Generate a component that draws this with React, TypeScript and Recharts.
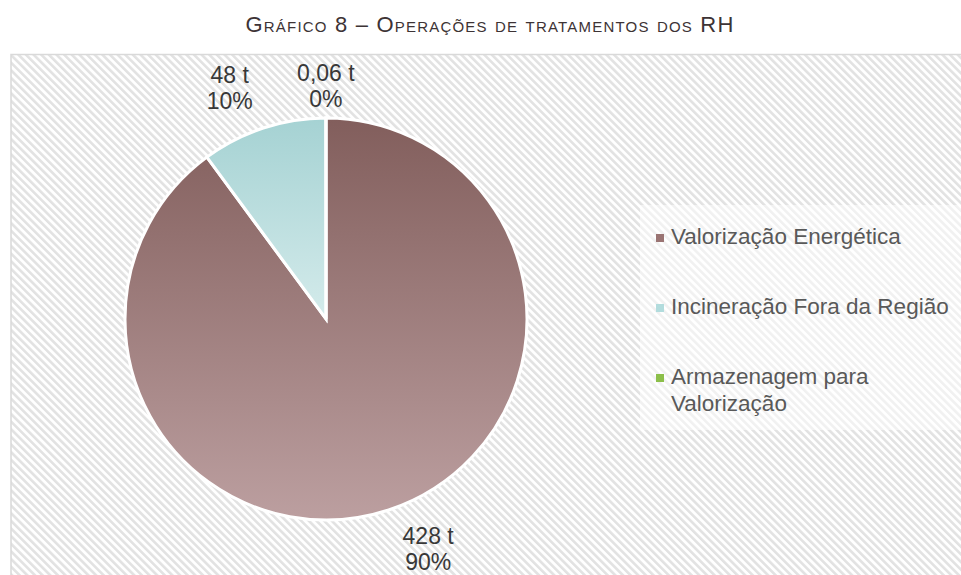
import React from "react";
import { PieChart, Pie, Cell, Legend } from "recharts";

const categories = ["Valorização Energética", "Incineração Fora da Região", "Armazenagem para Valorização"];
const values = [428, 48, 0.06];
const valueLabels = ["428 t", "48 t", "0,06 t"];
const titleText = "Gráfico 8 – Operações de tratamentos dos RH";

const gradients = [
  ["#825e5c", "#bc9fa0"],
  ["#a5d2d3", "#d4ebeb"],
  ["#8cb548", "#a9cf6d"],
];
const legendColors = ["#9a7473", "#b2dcdd", "#8cbf4a"];
const labelNudge = [
  [22, -9],
  [-16, 6],
  [0, 17],
];

const data = categories.map((name, i) => ({ name, value: values[i], text: valueLabels[i] }));

const RADIAN = Math.PI / 180;

const renderLabel = (props: any) => {
  const { cx, cy, midAngle, outerRadius, percent, index } = props;
  const r = outerRadius + 36;
  const dx = Math.cos(-midAngle * RADIAN);
  const dy = Math.sin(-midAngle * RADIAN);
  const x = cx + r * dx + dx * 20 + labelNudge[index][0];
  const y = cy + r * dy + dy * 14 + labelNudge[index][1];
  return (
    <text
      x={x}
      y={y}
      textAnchor="middle"
      fill="#383838"
      fontSize={23}
      fontFamily="'Liberation Sans', Arial, sans-serif"
    >
      <tspan x={x} dy={-4}>{data[index].text}</tspan>
      <tspan x={x} dy={26}>{`${Math.round(percent * 100)}%`}</tspan>
    </text>
  );
};

const LegendContent = () => (
  <div
    style={{
      background: "rgba(255,255,255,0.5)",
      width: 321,
      height: 225,
      boxSizing: "border-box",
      paddingLeft: 16,
      paddingTop: 18,
      fontFamily: "'Liberation Sans', Arial, sans-serif",
      fontSize: 22.5,
      color: "#595959",
    }}
  >
    {categories.map((c, i) => (
      <div key={c} style={{ display: "flex", alignItems: "flex-start", height: i === 2 ? 60 : 70, lineHeight: "27px" }}>
        <span
          style={{
            display: "inline-block",
            width: 8,
            height: 8,
            marginTop: 11,
            marginRight: 7,
            flex: "0 0 auto",
            background: legendColors[i],
          }}
        />
        <span style={{ width: 292 }}>{c}</span>
      </div>
    ))}
  </div>
);

export default function App() {
  return (
    <div style={{ position: "fixed", left: 0, top: 0, width: 961, height: 575, overflow: "hidden", background: "#fff" }}>
      <div
        style={{
          position: "absolute",
          left: 0,
          top: 12,
          width: 980,
          textAlign: "center",
          fontFamily: "'Liberation Sans', Arial, sans-serif",
          fontSize: 22,
          fontVariant: "small-caps",
          letterSpacing: 1.2,
          color: "#3d3335",
        }}
      >
        {titleText}
      </div>
      <svg style={{ position: "absolute", left: 0, top: 0 }} width={961} height={575}>
        <defs>
          <pattern id="hatch" patternUnits="userSpaceOnUse" width={5.4} height={5.4} patternTransform="rotate(-45)">
            <rect x={0} y={0} width={5.4} height={5.4} fill="#ffffff" />
            <rect x={0} y={0} width={2.6} height={5.4} fill="#e2e2e2" />
          </pattern>
        </defs>
        <rect x={11} y={54.5} width={960} height={540} fill="url(#hatch)" stroke="#d9d9d9" strokeWidth={1.5} />
      </svg>
      <div style={{ position: "absolute", left: 0, top: 0 }}>
        <PieChart width={961} height={575} margin={{ top: 0, right: 0, bottom: 0, left: 0 }}>
          <defs>
            {gradients.map((g, i) => (
              <linearGradient key={i} id={`grad${i}`} x1="0" y1="0" x2="0" y2="1">
                <stop offset="0%" stopColor={g[0]} />
                <stop offset="100%" stopColor={g[1]} />
              </linearGradient>
            ))}
          </defs>
          <Pie
            data={data}
            dataKey="value"
            nameKey="name"
            cx={326}
            cy={319}
            outerRadius={201}
            startAngle={90}
            endAngle={-270}
            stroke="#ffffff"
            strokeWidth={3}
            label={renderLabel}
            labelLine={false}
            isAnimationActive={false}
          >
            {data.map((d, i) => (
              <Cell key={d.name} fill={`url(#grad${i})`} />
            ))}
          </Pie>
          <Legend
            content={<LegendContent />}
            wrapperStyle={{ position: "absolute", left: 640, top: 205, width: 321, height: 225 }}
          />
        </PieChart>
      </div>
    </div>
  );
}
